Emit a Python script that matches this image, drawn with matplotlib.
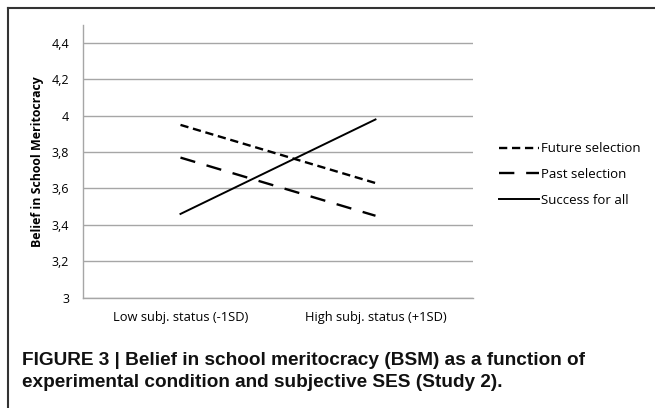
import matplotlib.pyplot as plt
from matplotlib.lines import Line2D

categories = ["Low subj. status (-1SD)", "High subj. status (+1SD)"]
future_sel = [3.95, 3.63]
past_sel = [3.77, 3.45]
success_all = [3.46, 3.98]
yticks = [3.0, 3.2, 3.4, 3.6, 3.8, 4.0, 4.2, 4.4]
ytick_labels = ["3", "3,2", "3,4", "3,6", "3,8", "4", "4,2", "4,4"]

plt.rcParams['font.family'] = ['Open Sans', 'DejaVu Sans']

fig = plt.figure(figsize=(6.55, 4.08), dpi=100)
ax = fig.add_axes([0.1267, 0.2708, 0.5954, 0.668])

fut_style = (0, (3.5, 2))
past_style = (0, (6.5, 5))

x = range(len(categories))
ax.plot(x, future_sel, color='black', lw=1.7, linestyle=fut_style, label="Future selection")
ax.plot(x, past_sel, color='black', lw=1.7, linestyle=past_style, label="Past selection")
ax.plot(x, success_all, color='black', lw=1.4, linestyle='-', label="Success for all")

ax.set_xlim(-0.5, 1.5)
ax.set_ylim(3.0, 4.5)
ax.set_xticks(list(x))
ax.set_xticklabels(categories, fontsize=9.3)
ax.set_yticks(yticks)
ax.set_yticklabels(ytick_labels, fontsize=9)
ax.tick_params(length=0)
ax.tick_params(axis='y', pad=10)
ax.tick_params(axis='x', pad=10)
ax.yaxis.grid(True, color='#a6a6a6', lw=1)
ax.set_axisbelow(True)
for s in ['top', 'right']:
    ax.spines[s].set_visible(False)
for s in ['left', 'bottom']:
    ax.spines[s].set_color('#a6a6a6')
    ax.spines[s].set_linewidth(1)
ax.set_ylabel("Belief in School Meritocracy", fontsize=8.9, fontweight='bold', labelpad=5)

handles = [
    Line2D([], [], color='black', lw=1.7, linestyle=fut_style),
    Line2D([], [], color='black', lw=1.7, linestyle=past_style),
    Line2D([], [], color='black', lw=1.4, linestyle='-'),
]
fig.legend(handles, ["Future selection", "Past selection", "Success for all"],
           loc='upper left', bbox_to_anchor=(0.743, 0.68), frameon=False,
           fontsize=9.5, handlelength=3.1, handletextpad=0.1, labelspacing=0.95)

# caption
fig.text(0.034, 0.09, "FIGURE 3 | Belief in school meritocracy (BSM) as a function of\n"
         "experimental condition and subjective SES (Study 2).",
         family=['Liberation Sans', 'DejaVu Sans'], fontsize=13.7, fontweight='bold',
         va='center', ha='left', linespacing=1.35, color='#111111')

# frame (top and left only)
fig.add_artist(Line2D([0.012, 1.0], [0.981, 0.981], color='#333333', lw=1.5, transform=fig.transFigure))
fig.add_artist(Line2D([0.012, 0.012], [0.0, 0.981], color='#333333', lw=1.5, transform=fig.transFigure))

fig.savefig("out.png", dpi=100)
